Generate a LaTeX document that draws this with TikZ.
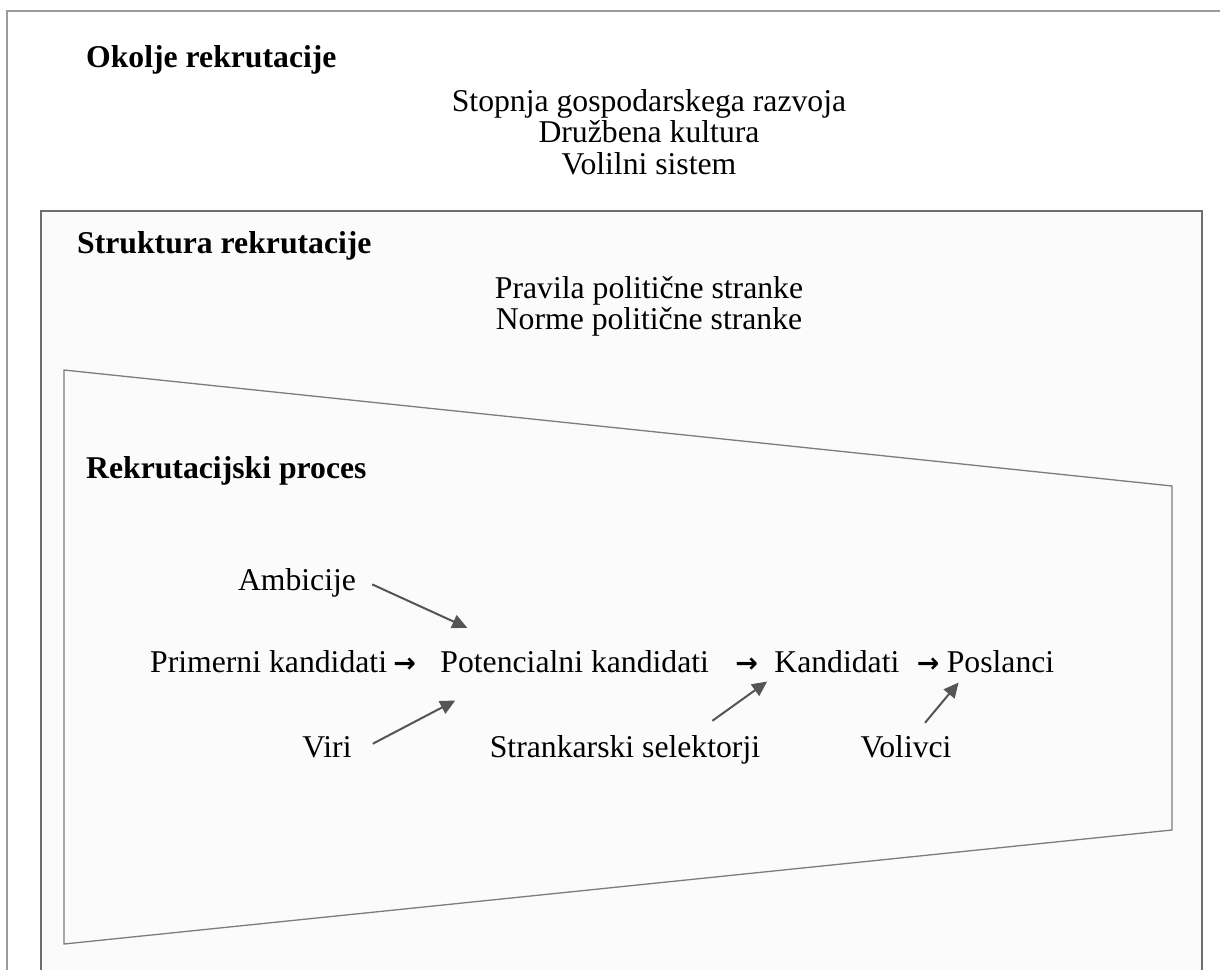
\documentclass[tikz,border=0pt]{standalone}
\usepackage{fontspec}
\setmainfont{Liberation Serif}
\newfontfamily\arrowfont{DejaVu Sans}
\usetikzlibrary{arrows.meta,positioning}

\definecolor{outergray}{HTML}{9A9A9A}
\definecolor{boxgray}{HTML}{6E6E6E}
\definecolor{funnelgray}{HTML}{7C7C7C}
\definecolor{panelfill}{HTML}{FBFBFB}
\definecolor{infgray}{HTML}{555555}

\begin{document}
\begin{tikzpicture}[x=1pt,y=-1pt,
  txt/.style={inner sep=0pt,font=\fontsize{31.7}{36.5}\selectfont},
  item/.style={txt,anchor=base},
  heading/.style={txt,anchor=base west,font=\fontsize{31.7}{36.5}\selectfont\bfseries},
  flow/.style={inner sep=0pt,anchor=base,font=\arrowfont\bfseries\fontsize{27}{30}\selectfont},
  influence/.style={draw=infgray,line width=2pt,
    -{Triangle[length=15pt,width=14pt]},shorten >=0pt}]

  \useasboundingbox (0,0) rectangle (1220,969);
  \clip (0,0) rectangle (1220,969);

  % nested frames: environment, structure, process funnel
  \draw[outergray,line width=1.5pt,fill=white] (7,11) rectangle (1240,990);
  \draw[boxgray,line width=1.5pt,fill=panelfill] (41,211) rectangle (1202,990);
  \draw[funnelgray,line width=1.3pt,fill=panelfill]
    (64,370) -- (1172,486) -- (1172,830) -- (64,944) -- cycle;

  % headings
  \node[heading] (okolje) at (86,67) {Okolje rekrutacije};
  \node[heading] (struktura) at (77,253) {Struktura rekrutacije};
  \node[heading] (proces) at (86,478) {Rekrutacijski proces};

  % environment factors
  \node[item] (razvoj) at (649,111) {Stopnja gospodarskega razvoja};
  \node[item] (kultura) at (649,142) {Družbena kultura};
  \node[item] (sistem) at (649,174) {Volilni sistem};

  % party rules
  \node[item] (pravila) at (649,298) {Pravila politične stranke};
  \node[item] (norme) at (649,329) {Norme politične stranke};

  % main chain
  \node[txt,anchor=base west] (primerni) at (150,672) {Primerni kandidati};
  \node[flow,base right=6pt of primerni] (f1) {→};
  \node[txt,base right=24pt of f1] (potencialni) {Potencialni kandidati};
  \node[flow,base right=26pt of potencialni] (f2) {→};
  \node[txt,base right=16pt of f2] (kandidati) {Kandidati};
  \node[flow,base right=17pt of kandidati] (f3) {→};
  \node[txt,base right=7pt of f3] (poslanci) {Poslanci};

  % influences
  \node[item] (ambicije) at (297,590) {Ambicije};
  \node[item] (viri) at (327,757) {Viri};
  \node[item] (selektorji) at (625,757) {Strankarski selektorji};
  \node[item] (volivci) at (906,757) {Volivci};

  \draw[influence] ([xshift=16pt,yshift=-2pt]ambicije.east)
    -- ([xshift=27pt,yshift=22pt]potencialni.north west);
  \draw[influence] ([xshift=21pt,yshift=3pt]viri.east)
    -- ([xshift=15pt,yshift=-28pt]potencialni.south west);
  \draw[influence] ([xshift=-48pt,yshift=14pt]selektorji.north east)
    -- ([xshift=-7pt,yshift=-9pt]kandidati.south west);
  \draw[influence] ([xshift=19pt,yshift=12pt]volivci.north)
    -- ([xshift=12pt,yshift=-10pt]poslanci.south west);
\end{tikzpicture}
\end{document}
